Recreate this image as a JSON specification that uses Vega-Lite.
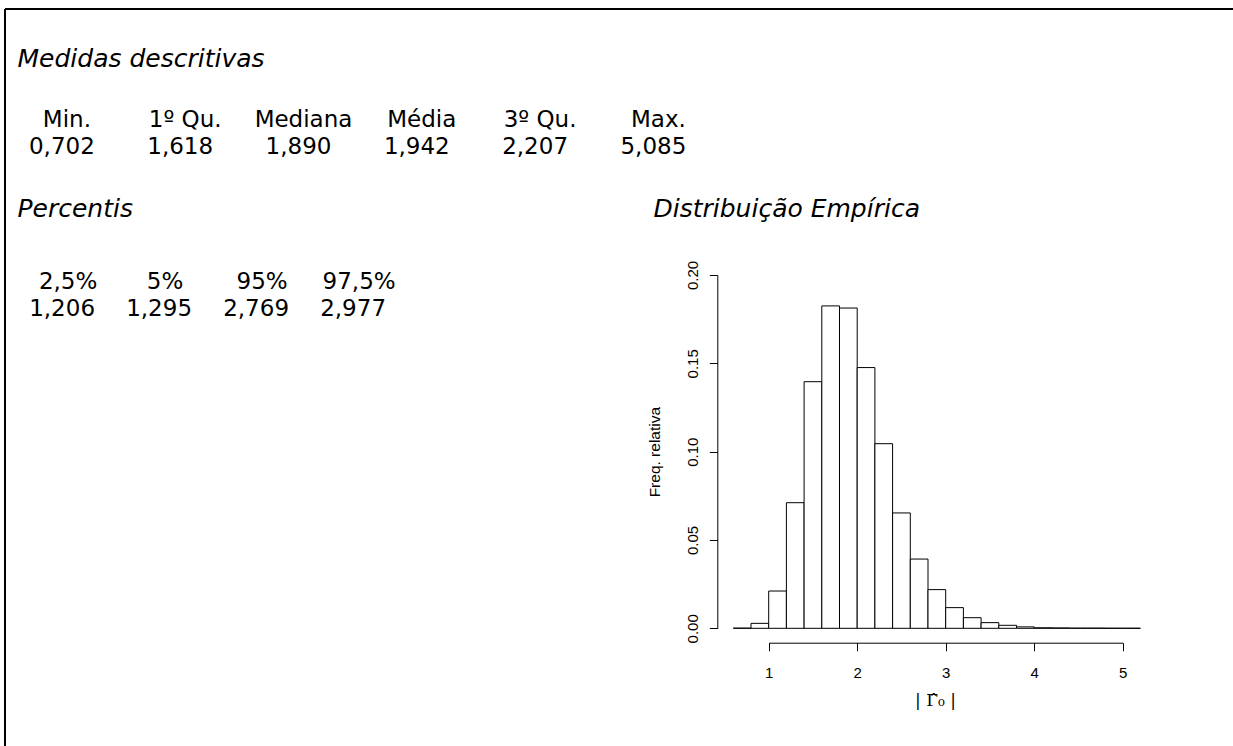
{
  "$schema": "https://vega.github.io/schema/vega-lite/v6.json",
  "width": 1228,
  "height": 737,
  "autosize": {"type": "none"},
  "padding": {"left": 5, "top": 9, "right": 0, "bottom": 0},
  "background": "white",
  "config": {
    "view": {"stroke": null},
    "locale": {"number": {"decimal": ",", "thousands": ".", "grouping": [3], "currency": ["", ""]}}
  },
  "datasets": {
    "hist": [
      {"bin_start": 0.6, "bin_end": 0.8, "freq": 0.0001},
      {"bin_start": 0.8, "bin_end": 1.0, "freq": 0.0028},
      {"bin_start": 1.0, "bin_end": 1.2, "freq": 0.0211},
      {"bin_start": 1.2, "bin_end": 1.4, "freq": 0.0711},
      {"bin_start": 1.4, "bin_end": 1.6, "freq": 0.1396},
      {"bin_start": 1.6, "bin_end": 1.8, "freq": 0.1825},
      {"bin_start": 1.8, "bin_end": 2.0, "freq": 0.1813},
      {"bin_start": 2.0, "bin_end": 2.2, "freq": 0.1476},
      {"bin_start": 2.2, "bin_end": 2.4, "freq": 0.1045},
      {"bin_start": 2.4, "bin_end": 2.6, "freq": 0.0653},
      {"bin_start": 2.6, "bin_end": 2.8, "freq": 0.0392},
      {"bin_start": 2.8, "bin_end": 3.0, "freq": 0.0219},
      {"bin_start": 3.0, "bin_end": 3.2, "freq": 0.0117},
      {"bin_start": 3.2, "bin_end": 3.4, "freq": 0.0060},
      {"bin_start": 3.4, "bin_end": 3.6, "freq": 0.0032},
      {"bin_start": 3.6, "bin_end": 3.8, "freq": 0.0017},
      {"bin_start": 3.8, "bin_end": 4.0, "freq": 0.0008},
      {"bin_start": 4.0, "bin_end": 4.2, "freq": 0.0003},
      {"bin_start": 4.2, "bin_end": 4.4, "freq": 0.0002},
      {"bin_start": 4.4, "bin_end": 4.6, "freq": 0.0001},
      {"bin_start": 4.6, "bin_end": 4.8, "freq": 0.0001},
      {"bin_start": 4.8, "bin_end": 5.0, "freq": 0.00005},
      {"bin_start": 5.0, "bin_end": 5.2, "freq": 0.00003}
    ],
    "headings": [
      {"title": "Medidas descritivas", "col": 0, "line": 0},
      {"title": "Percentis", "col": 0, "line": 1},
      {"title": "Distribuição Empírica", "col": 1, "line": 1}
    ],
    "medidas": [
      {"stat": "Min.", "value": 0.702, "col": 0},
      {"stat": "1º Qu.", "value": 1.618, "col": 1},
      {"stat": "Mediana", "value": 1.890, "col": 2},
      {"stat": "Média", "value": 1.942, "col": 3},
      {"stat": "3º Qu.", "value": 2.207, "col": 4},
      {"stat": "Max.", "value": 5.085, "col": 5}
    ],
    "percentis": [
      {"p": 0.025, "value": 1.206, "col": 0},
      {"p": 0.05, "value": 1.295, "col": 1},
      {"p": 0.95, "value": 2.769, "col": 2},
      {"p": 0.975, "value": 2.977, "col": 3}
    ]
  },
  "resolve": {
    "scale": {"x": "independent", "y": "independent"},
    "axis": {"x": "independent", "y": "independent"}
  },
  "layer": [
    {
      "data": {"values": [{}]},
      "mark": {"type": "rule", "stroke": "black", "strokeWidth": 2},
      "encoding": {"x": {"value": 0}, "x2": {"value": "width"}, "y": {"value": 0}}
    },
    {
      "data": {"values": [{}]},
      "mark": {"type": "rule", "stroke": "black", "strokeWidth": 2},
      "encoding": {"x": {"value": 0}, "y": {"value": 0}, "y2": {"value": "height"}}
    },
    {
      "data": {"name": "hist"},
      "mark": {"type": "rect", "fill": "white", "stroke": "black", "strokeWidth": 1},
      "encoding": {
        "x": {
          "field": "bin_start", "type": "quantitative",
          "scale": {"domain": [1, 5], "range": [763.7, 1117.7], "nice": false, "zero": false},
          "axis": {
            "values": [1, 2, 3, 4, 5], "format": "d", "orient": "bottom", "offset": -103.3,
            "grid": false, "domainColor": "black", "domainWidth": 1, "tickColor": "black", "tickWidth": 1, "tickSize": 8,
            "labelFont": "Liberation Sans", "labelFontSize": 15, "labelColor": "black", "labelPadding": 15,
            "labelFlush": false, "labelOverlap": false,
            "title": "| \u0393\u0302\u2080 |", "titleFont": "DejaVu Serif", "titleFontSize": 17,
            "titleFontWeight": "normal", "titleColor": "black", "titlePadding": 12, "titleX": 930
          }
        },
        "x2": {"field": "bin_end"},
        "y": {
          "field": "freq", "type": "quantitative",
          "scale": {"domain": [0, 0.2], "range": [619.3, 266], "nice": false, "zero": false},
          "axis": {
            "values": [0, 0.05, 0.1, 0.15, 0.2], "format": ".2f", "labelExpr": "replace(datum.label, ',', '.')",
            "orient": "left", "offset": -712.3,
            "grid": false, "domainColor": "black", "domainWidth": 1, "tickColor": "black", "tickWidth": 1, "tickSize": 8,
            "labelAngle": -90, "labelAlign": "center", "labelBaseline": "bottom",
            "labelFont": "Liberation Sans", "labelFontSize": 15, "labelColor": "black", "labelPadding": 9,
            "labelFlush": false, "labelOverlap": false,
            "title": "Freq. relativa", "titleFont": "Liberation Sans", "titleFontSize": 15.5,
            "titleFontWeight": "normal", "titleColor": "black", "titlePadding": 23
          }
        },
        "y2": {"datum": 0}
      }
    },
    {
      "data": {"name": "headings"},
      "mark": {"type": "text", "align": "left", "baseline": "alphabetic", "font": "DejaVu Sans", "fontSize": 25, "fontStyle": "italic", "fill": "black"},
      "encoding": {
        "x": {"field": "col", "type": "quantitative", "scale": {"domain": [0, 1], "range": [12.5, 648.5], "nice": false, "zero": false}, "axis": null},
        "y": {"field": "line", "type": "quantitative", "scale": {"domain": [0, 1], "range": [58.3, 208.3], "nice": false, "zero": false}, "axis": null},
        "text": {"field": "title"}
      }
    },
    {
      "data": {"name": "medidas"},
      "mark": {"type": "text", "align": "center", "baseline": "alphabetic", "font": "DejaVu Sans", "fontSize": 23, "fill": "black", "dx": 2.5},
      "encoding": {
        "x": {"field": "col", "type": "quantitative", "scale": {"domain": [0, 5], "range": [59.4, 650.9], "nice": false, "zero": false}, "axis": null},
        "y": {"datum": 0, "type": "quantitative", "scale": {"domain": [0, 1], "range": [117.8, 145.3], "nice": false, "zero": false}, "axis": null},
        "text": {"field": "stat"}
      }
    },
    {
      "data": {"name": "medidas"},
      "mark": {"type": "text", "align": "center", "baseline": "alphabetic", "font": "DejaVu Sans", "fontSize": 23, "fill": "black", "dx": -2.5},
      "encoding": {
        "x": {"field": "col", "type": "quantitative", "scale": {"domain": [0, 5], "range": [59.4, 650.9], "nice": false, "zero": false}, "axis": null},
        "y": {"datum": 1, "type": "quantitative", "scale": {"domain": [0, 1], "range": [117.8, 145.3], "nice": false, "zero": false}, "axis": null},
        "text": {"field": "value", "type": "quantitative", "format": ".3f"}
      }
    },
    {
      "data": {"name": "percentis"},
      "mark": {"type": "text", "align": "center", "baseline": "alphabetic", "font": "DejaVu Sans", "fontSize": 23, "fill": "black", "dx": 3},
      "encoding": {
        "x": {"field": "col", "type": "quantitative", "scale": {"domain": [0, 3], "range": [60.1, 351.1], "nice": false, "zero": false}, "axis": null},
        "y": {"datum": 0, "type": "quantitative", "scale": {"domain": [0, 1], "range": [279.5, 307], "nice": false, "zero": false}, "axis": null},
        "text": {"field": "p", "type": "quantitative", "format": "~%"}
      }
    },
    {
      "data": {"name": "percentis"},
      "mark": {"type": "text", "align": "center", "baseline": "alphabetic", "font": "DejaVu Sans", "fontSize": 23, "fill": "black", "dx": -3},
      "encoding": {
        "x": {"field": "col", "type": "quantitative", "scale": {"domain": [0, 3], "range": [60.1, 351.1], "nice": false, "zero": false}, "axis": null},
        "y": {"datum": 1, "type": "quantitative", "scale": {"domain": [0, 1], "range": [279.5, 307], "nice": false, "zero": false}, "axis": null},
        "text": {"field": "value", "type": "quantitative", "format": ".3f"}
      }
    }
  ]
}
